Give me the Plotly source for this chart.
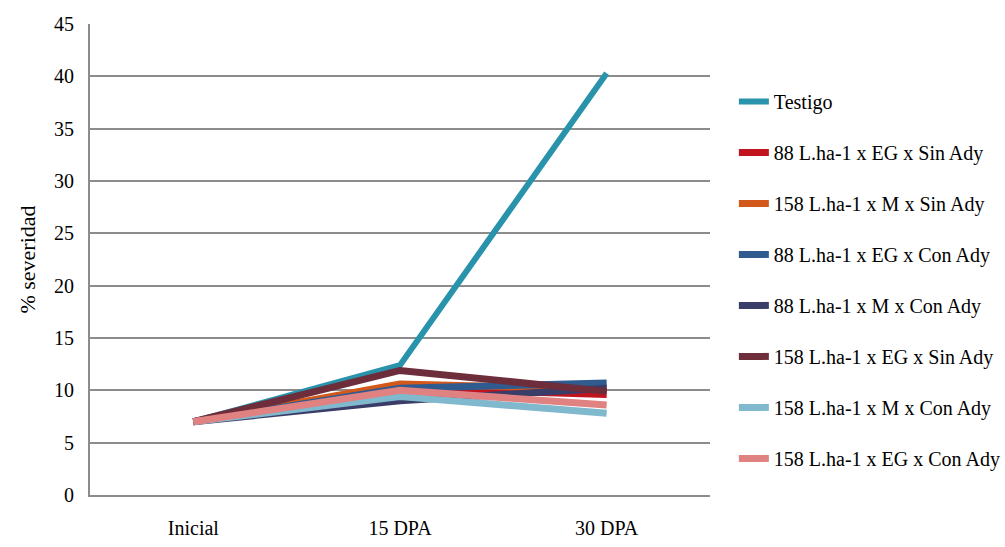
import plotly.graph_objects as go

# Muestreos
categorias = ["Inicial", "15 DPA", "30 DPA"]

# Severidad (%) por tratamiento
testigo = [7.0, 12.4, 40.3]
l88_eg_sin = [7.0, 10.2, 9.6]
l158_m_sin = [7.0, 10.6, 10.1]
l88_eg_con = [7.0, 10.2, 10.7]
l88_m_con = [7.0, 9.0, 10.2]
l158_eg_sin = [7.0, 11.9, 9.9]
l158_m_con = [7.0, 9.4, 7.8]
l158_eg_con = [7.0, 10.0, 8.6]

series = [
    ("Testigo", testigo, "#2993AB", 6),
    ("88 L.ha-1 x EG x Sin Ady", l88_eg_sin, "#C2141F", 7),
    ("158 L.ha-1 x M x Sin Ady", l158_m_sin, "#D2581B", 7),
    ("88 L.ha-1 x EG x Con Ady", l88_eg_con, "#2F5B8F", 7),
    ("88 L.ha-1 x M x Con Ady", l88_m_con, "#3A3D68", 7),
    ("158 L.ha-1 x EG x Sin Ady", l158_eg_sin, "#6E2D3B", 7),
    ("158 L.ha-1 x M x Con Ady", l158_m_con, "#80B8CD", 7),
    ("158 L.ha-1 x EG x Con Ady", l158_eg_con, "#E08182", 7),
]

FONT = "'Liberation Serif', 'Times New Roman', serif"

fig = go.Figure()
for i, (nombre, valores, color, ancho) in enumerate(series):
    fig.add_trace(go.Scatter(
        x=categorias, y=valores, name=nombre, mode="lines",
        legendgroup=f"g{i}",
        line=dict(color=color, width=ancho),
    ))

fig.update_layout(
    width=1005, height=547,
    margin=dict(l=90, r=295, t=24, b=52, autoexpand=False),
    plot_bgcolor="white", paper_bgcolor="white",
    font=dict(family=FONT, size=20, color="black"),
    showlegend=True,
    legend=dict(
        x=1.0385, xanchor="left", y=0.877, yanchor="top",
        traceorder="grouped", tracegroupgap=22,
        font=dict(family=FONT, size=20, color="black"),
        bgcolor="rgba(0,0,0,0)",
    ),
)

fig.update_xaxes(
    type="category", range=[-0.5, 2.5], showgrid=False, showline=True,
    linecolor="#8C8C8C", linewidth=2, ticks="",
    ticklabelstandoff=14,
    tickfont=dict(family=FONT, size=20),
)
fig.update_yaxes(
    range=[0, 45], dtick=5, showgrid=True, gridcolor="#8C8C8C", gridwidth=2,
    showline=True, linecolor="#8C8C8C", linewidth=2, ticks="",
    zeroline=False, ticklabelstandoff=10,
    tickfont=dict(family=FONT, size=20),
    title=dict(text="% severidad", font=dict(family=FONT, size=22), standoff=12),
)

fig.write_html("out.html")
